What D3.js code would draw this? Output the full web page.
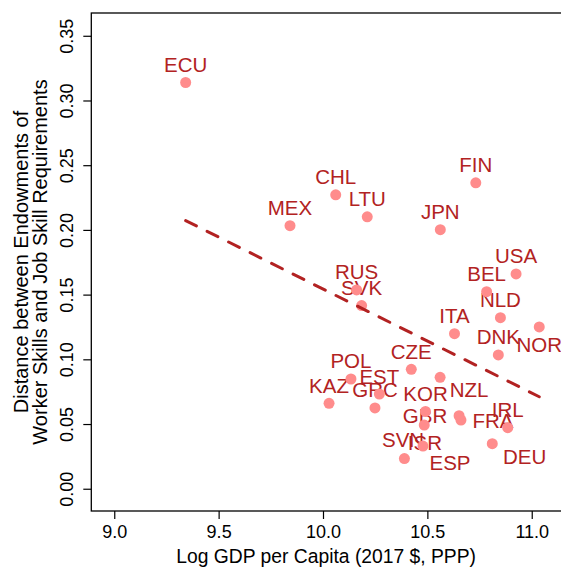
<!DOCTYPE html>
<html>
<head>
<meta charset="utf-8">
<script src="https://cdn.jsdelivr.net/npm/d3@7/dist/d3.min.js"></script>
<style>
  html, body { margin: 0; padding: 0; background: #fff; }
  svg { display: block; }
  text { font-family: "Liberation Sans", Arial, Helvetica, sans-serif; }
</style>
</head>
<body>
<svg id="chart" width="561" height="567"></svg>
<script>
// ---- data ----
const countries = ["ECU","MEX","CHL","LTU","JPN","FIN","USA","BEL","RUS","SVK","NLD","ITA","NOR","DNK","CZE","NZL","POL","EST","KAZ","GRC","KOR","GBR","FRA","ISR","IRL","DEU","ESP","SVN"];
const logGdp = [9.342,9.842,10.061,10.212,10.562,10.732,10.925,10.784,10.161,10.185,10.850,10.630,11.036,10.840,10.423,10.561,10.134,10.270,10.029,10.249,10.491,10.652,10.661,10.485,10.885,10.811,10.479,10.390];
const distance = [0.3139,0.2033,0.2271,0.2101,0.2002,0.2364,0.1660,0.1523,0.1536,0.1415,0.1322,0.1198,0.1250,0.1034,0.0923,0.0861,0.0848,0.0732,0.0660,0.0624,0.0597,0.0564,0.0531,0.0492,0.0472,0.0348,0.0330,0.0233];
const trendX = [9.342, 11.036];
const trendY = [0.2072, 0.0711];
const xTicks = [9.0, 9.5, 10.0, 10.5, 11.0];
const yTicks = [0.00, 0.05, 0.10, 0.15, 0.20, 0.25, 0.30, 0.35];
const xTitle = "Log GDP per Capita (2017 $, PPP)";
const yTitleLines = ["Distance between Endowments of", "Worker Skills and Job Skill Requirements"];

// ---- layout (label placement offsets in px, relative to point) ----
const defaultOffset = [0, -10.5];
const labelOffsets = {
  NOR: [0, 25], ISR: [0.7, 25], NZL: [29, 20], GBR: [-34, 7.6],
  FRA: [32, 7.7], ESP: [27, 24], DEU: [32.4, 20.6], SVN: [-1.3, -11.8], IRL: [0, -11]
};

(function () {
const svg = d3.select("#chart");
const pLeft = 91.3, pTop = 13, pBottom = 511, pRight = 562;
const x = d3.scaleLinear().domain([8.89, 11.145]).range([pLeft, pRight]);
const y = d3.scaleLinear().domain([-0.0172, 0.3676]).range([pBottom, pTop]);

const textCol = "#b22222", ptCol = "#ff8c8c", lineCol = "#b22222";

// axes
const xAxis = svg.append("g").attr("transform", `translate(0,${pBottom})`)
  .call(d3.axisBottom(x).tickValues(xTicks).tickFormat(d3.format(".1f")).tickSize(8).tickPadding(8));
xAxis.select(".domain").remove();
xAxis.selectAll("line").attr("stroke", "#000").attr("stroke-width", 1.2);
xAxis.selectAll("text").attr("font-size", 18).attr("fill", "#000")
  .attr("dy", null).attr("y", 27);

const yAxis = svg.append("g").attr("transform", `translate(${pLeft},0)`)
  .call(d3.axisLeft(y).tickValues(yTicks).tickFormat(d3.format(".2f")).tickSize(8));
yAxis.select(".domain").remove();
yAxis.selectAll("line").attr("stroke", "#000").attr("stroke-width", 1.2);
yAxis.selectAll("text").attr("font-size", 18).attr("fill", "#000")
  .attr("transform", "rotate(-90)").attr("x", 0).attr("dy", null)
  .attr("y", -18.6).attr("text-anchor", "middle");
svg.selectAll(".tick text").attr("font-family", "Liberation Sans, Arial, sans-serif");

// frame
svg.append("rect").attr("x", pLeft).attr("y", pTop)
  .attr("width", pRight - pLeft + 2).attr("height", pBottom - pTop)
  .attr("fill", "none").attr("stroke", "#000").attr("stroke-width", 1.3);

// titles
svg.append("text").attr("x", (pLeft + 561) / 2).attr("y", 563)
  .attr("text-anchor", "middle").attr("font-size", 19.3).attr("fill", "#000").text(xTitle);
const yMid = (pTop + pBottom) / 2;
const yTitleX = [28, 47];
yTitleLines.forEach((t, i) => {
  svg.append("text").attr("transform", `translate(${yTitleX[i]},${yMid}) rotate(-90)`)
    .attr("text-anchor", "middle").attr("font-size", 20).attr("fill", "#000").text(t);
});

const pts = countries.map((c, i) => ({ c, gx: logGdp[i], dv: distance[i] }));

// labels
svg.append("g").selectAll("text").data(pts).join("text")
  .attr("x", d => x(d.gx) + (labelOffsets[d.c] || defaultOffset)[0])
  .attr("y", d => y(d.dv) + (labelOffsets[d.c] || defaultOffset)[1])
  .attr("text-anchor", "middle").attr("font-size", 20.5).attr("fill", textCol)
  .text(d => d.c);

// points
svg.append("g").selectAll("circle").data(pts).join("circle")
  .attr("cx", d => x(d.gx)).attr("cy", d => y(d.dv)).attr("r", 5.5)
  .attr("fill", ptCol);

// trend line
svg.append("path")
  .datum(trendX.map((v, i) => [v, trendY[i]]))
  .attr("d", d3.line().x(d => x(d[0])).y(d => y(d[1])))
  .attr("fill", "none").attr("stroke", lineCol).attr("stroke-width", 3)
  .attr("stroke-dasharray", "12,12").attr("stroke-linecap", "round");
})();
</script>
</body>
</html>
